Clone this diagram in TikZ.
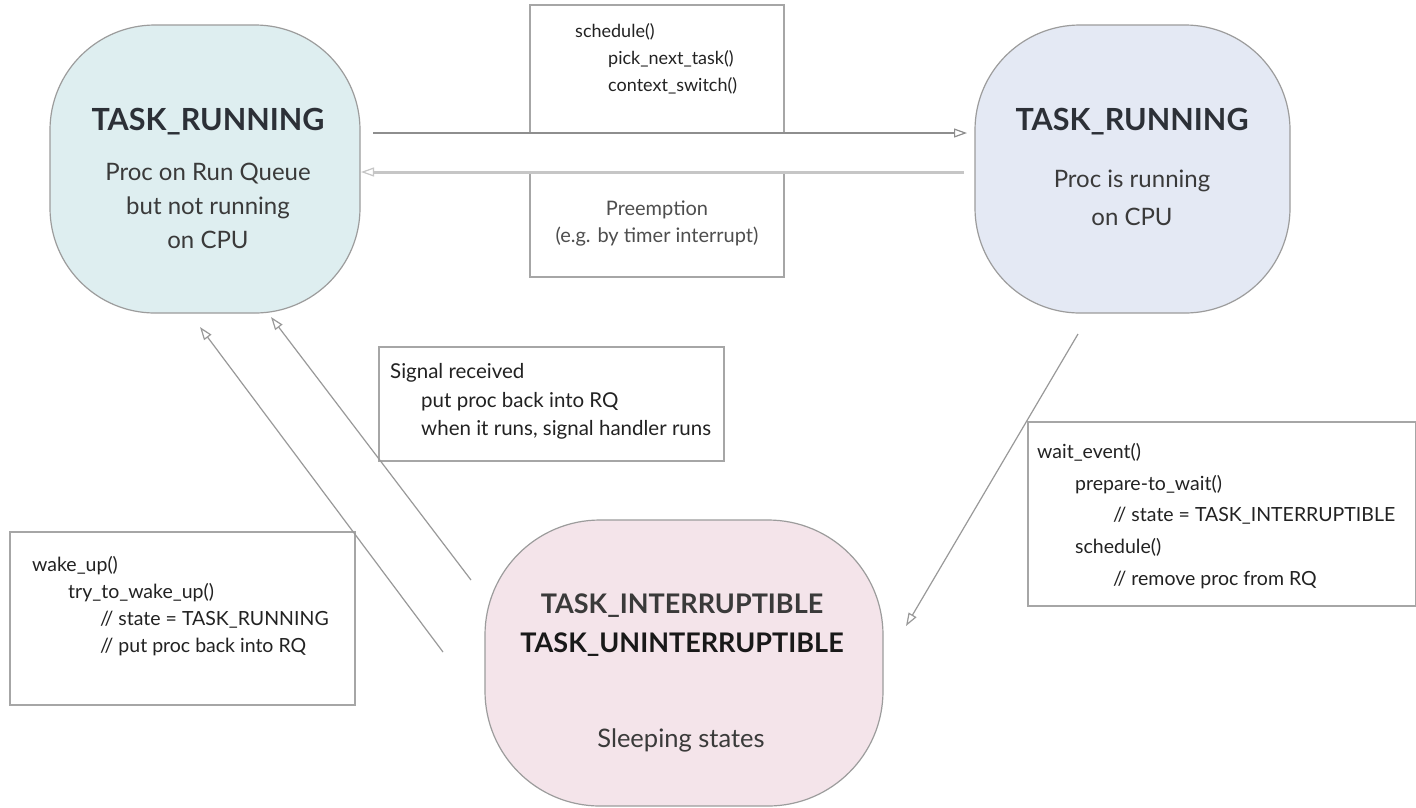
\documentclass[tikz,border=0pt]{standalone}
\usepackage{fontspec}
\setmainfont{Lato}
\usetikzlibrary{arrows.meta}
\definecolor{blueL}{HTML}{DEEEF0}
\definecolor{blueR}{HTML}{E4E9F4}
\definecolor{pinkB}{HTML}{F4E4EA}
\definecolor{blobedge}{HTML}{9C9C9C}
\definecolor{boxedge}{HTML}{A6A6A6}
\definecolor{titletxt}{HTML}{2C3037}
\definecolor{bodytxt}{HTML}{3A3A3A}
\definecolor{boxtxt}{HTML}{222222}
\definecolor{arrdark}{HTML}{8E8E8E}
\definecolor{arrlight}{HTML}{C6C6C6}
\tikzset{
  blob/.style={draw=blobedge, line width=1.2pt, rectangle, inner sep=0pt},
  notebox/.style={draw=boxedge, line width=1.6pt},
  title/.style={anchor=base, font=\fontsize{30.5}{32}\selectfont\bfseries, text=titletxt, inner sep=0pt},
  stitle/.style={anchor=base, font=\fontsize{27}{29}\selectfont\bfseries, inner sep=0pt},
  body/.style={anchor=base, font=\fontsize{24}{26}\selectfont, text=bodytxt, inner sep=0pt},
  code/.style={anchor=base west, font=\fontsize{19.5}{22}\selectfont, text=boxtxt, inner sep=0pt},
  ccode/.style={anchor=base, font=\fontsize{20}{22}\selectfont, text=bodytxt!90, inner sep=0pt},
  tipo/.style={-{Triangle[open, length=13pt, width=9pt, line width=1.2pt]}},
  conn/.style={tipo, draw=arrdark!90, line width=1.2pt},
}
\begin{document}
\begin{tikzpicture}[x=1pt, y=-1pt]
\useasboundingbox (0,0) rectangle (1416,807);
\fill[white] (0,0) rectangle (1416,807);

% state blobs
\node[blob, fill=blueL, minimum width=310pt, minimum height=288pt, rounded corners=105pt] (rq) at (205,169) {};
\node[blob, fill=blueR, minimum width=315pt, minimum height=288pt, rounded corners=105pt] (cpu) at (1132.5,169) {};
\node[blob, fill=pinkB, minimum width=398pt, minimum height=286pt, rounded corners=115pt] (sleep) at (684,663) {};

% blob texts
\node[title] (rqT) at (208,130) {TASK\_RUNNING};
\node[body] (rqA) at (208,180) {Proc on Run Queue};
\node[body] (rqB) at (208,214) {but not running};
\node[body] (rqC) at (208,248) {on CPU};

\node[title] (cpuT) at (1132,130) {TASK\_RUNNING};
\node[body] (cpuA) at (1132,187) {Proc is running};
\node[body] (cpuB) at (1132,225) {on CPU};

\node[stitle, text=bodytxt] (slT1) at (682,613) {TASK\_INTERRUPTIBLE};
\node[stitle, text=black!90] (slT2) at (682,652) {TASK\_UNINTERRUPTIBLE};
\node[body, font=\fontsize{25.5}{28}\selectfont] (slA) at (681,747) {Sleeping states};

% note boxes
\draw[notebox] (530,5) rectangle (784,133);
\node[code, font=\fontsize{18}{20}\selectfont] (s1) at (575,37) {schedule()};
\node[code, font=\fontsize{18}{20}\selectfont] (s2) at (608,64) {pick\_next\_task()};
\node[code, font=\fontsize{18}{20}\selectfont] (s3) at (608,91) {context\_switch()};

\draw[notebox] (530,172) rectangle (784,277);
\node[ccode] (p1) at (657,215) {Preemption};
\node[ccode] (p2) at (657,242) {(e.g. by timer interrupt)};

\draw[notebox] (379,347) rectangle (724,461);
\node[code, font=\fontsize{20.5}{22}\selectfont] (g1) at (390,378) {Signal received};
\node[code, font=\fontsize{20.5}{22}\selectfont] (g2) at (421,407) {put proc back into RQ};
\node[code, font=\fontsize{20.5}{22}\selectfont] (g3) at (421,435) {when it runs, signal handler runs};

\draw[notebox] (10,532) rectangle (355,705);
\node[code] (k1) at (32,571) {wake\_up()};
\node[code] (k2) at (68,598) {try\_to\_wake\_up()};
\node[code] (k3) at (100,625) {// state = TASK\_RUNNING};
\node[code] (k4) at (100,652) {// put proc back into RQ};

\draw[notebox] (1028,422) rectangle (1416,606);
\node[code] (e1) at (1037,458) {wait\_event()};
\node[code] (e2) at (1075,490) {prepare-to\_wait()};
\node[code] (e3) at (1113,521) {// state = TASK\_INTERRUPTIBLE};
\node[code] (e4) at (1075,553) {schedule()};
\node[code] (e5) at (1113,585) {// remove proc from RQ};

% connectors
\coordinate (schedA) at (373,133);
\coordinate (schedB) at (967,133);
\draw[conn, draw=arrdark] (schedA) -- (schedB);

\coordinate (preA) at (964,172);
\coordinate (preB) at (361,172);
\draw[tipo, draw=arrlight, line width=3pt] (preA) -- (preB);

\coordinate (wakeA) at (443,652);
\coordinate (wakeB) at (200,327);
\draw[conn] (wakeA) -- (wakeB);

\coordinate (sigA) at (471,580);
\coordinate (sigB) at (271,317);
\draw[conn] (sigA) -- (sigB);

\coordinate (waitA) at (1078,334);
\coordinate (waitB) at (906,626);
\draw[conn] (waitA) -- (waitB);
\end{tikzpicture}
\end{document}
